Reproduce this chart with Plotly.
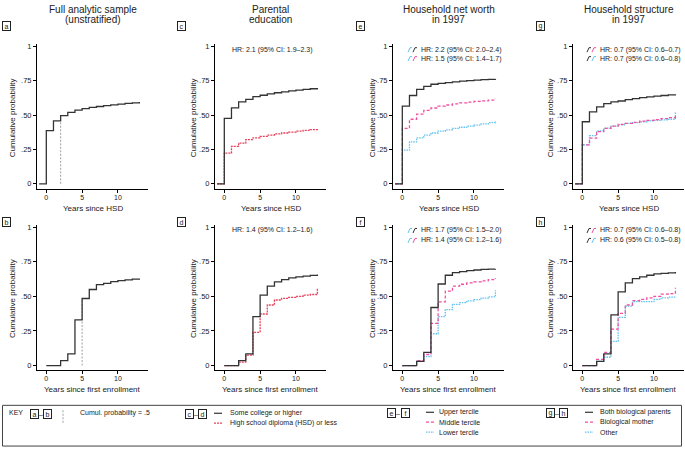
import plotly.graph_objects as go

W, H = 685, 456
FONT = "Liberation Sans, Arial, sans-serif"
BLACK = "#333333"
RED = "#e8405a"
PINK = "#f050a0"
BLUE = "#62c2f0"
GREY = "#888888"

# ---------------- data ----------------
t_hsd = [-1, 0, 1, 2, 3, 4, 5, 6, 7, 8, 9, 10, 11, 12, 13]
t_enr = [0, 1, 2, 3, 4, 5, 6, 7, 8, 9, 10, 11, 12, 13]

a_all = [0, 0.387, 0.458, 0.496, 0.52, 0.537, 0.548, 0.556, 0.563, 0.569, 0.575, 0.580, 0.585, 0.590, 0.595]
b_all = [0, 0, 0.035, 0.085, 0.33, 0.485, 0.55, 0.585, 0.595, 0.607, 0.615, 0.62, 0.625, 0.63]
a_median = 2
b_median = 5

c_college = [0, 0.476, 0.553, 0.596, 0.615, 0.635, 0.645, 0.655, 0.663, 0.670, 0.676, 0.682, 0.687, 0.692, 0.697]
c_hsd = [0, 0.224, 0.272, 0.296, 0.322, 0.335, 0.345, 0.355, 0.363, 0.370, 0.377, 0.383, 0.389, 0.395, 0.400]
d_college = [0, 0, 0.035, 0.085, 0.354, 0.51, 0.574, 0.605, 0.622, 0.634, 0.642, 0.647, 0.652, 0.658]
d_hsd = [0, 0, 0.025, 0.075, 0.24, 0.373, 0.438, 0.474, 0.486, 0.493, 0.50, 0.51, 0.514, 0.562]

e_upper = [0, 0.565, 0.643, 0.688, 0.71, 0.725, 0.732, 0.737, 0.742, 0.747, 0.751, 0.755, 0.758, 0.761, 0.763]
e_middle = [0, 0.404, 0.47, 0.507, 0.535, 0.552, 0.565, 0.574, 0.582, 0.589, 0.595, 0.60, 0.604, 0.61, 0.62]
e_lower = [0, 0.245, 0.305, 0.335, 0.355, 0.37, 0.383, 0.393, 0.403, 0.412, 0.42, 0.428, 0.436, 0.445, 0.457]
f_upper = [0, 0, 0.03, 0.095, 0.42, 0.59, 0.653, 0.672, 0.68, 0.686, 0.691, 0.695, 0.697, 0.699]
f_middle = [0, 0, 0.035, 0.08, 0.305, 0.46, 0.538, 0.574, 0.588, 0.598, 0.605, 0.613, 0.622, 0.634]
f_lower = [0, 0, 0.03, 0.065, 0.23, 0.354, 0.405, 0.443, 0.455, 0.468, 0.477, 0.488, 0.497, 0.545]

g_both = [0, 0.452, 0.524, 0.56, 0.584, 0.596, 0.603, 0.613, 0.62, 0.627, 0.633, 0.638, 0.643, 0.648, 0.652]
g_mother = [0, 0.284, 0.332, 0.38, 0.404, 0.42, 0.433, 0.44, 0.448, 0.456, 0.462, 0.468, 0.475, 0.482, 0.50]
g_other = [0, 0.284, 0.351, 0.385, 0.405, 0.42, 0.43, 0.44, 0.445, 0.452, 0.458, 0.462, 0.466, 0.470, 0.52]
h_both = [0, 0, 0.03, 0.085, 0.366, 0.533, 0.598, 0.629, 0.641, 0.653, 0.663, 0.667, 0.670, 0.677]
h_mother = [0, 0, 0.045, 0.095, 0.263, 0.378, 0.438, 0.469, 0.478, 0.49, 0.50, 0.517, 0.52, 0.562]
h_other = [0, 0, 0.03, 0.06, 0.175, 0.349, 0.43, 0.462, 0.462, 0.462, 0.478, 0.49, 0.495, 0.495]

titles = [["Full analytic sample", "(unstratified)"], ["Parental", "education"],
          ["Household net worth", "in 1997"], ["Household structure", "in 1997"]]
hr_text = {
    "c": ["HR: 2.1 (95% CI: 1.9\u20132.3)"],
    "d": ["HR: 1.4 (95% CI: 1.2\u20131.6)"],
    "e": ["HR: 2.2 (95% CI: 2.0\u20132.4)", "HR: 1.5 (95% CI: 1.4\u20131.7)"],
    "f": ["HR: 1.7 (95% CI: 1.5\u20132.0)", "HR: 1.4 (95% CI: 1.2\u20131.6)"],
    "g": ["HR: 0.7 (95% CI: 0.6\u20130.7)", "HR: 0.7 (95% CI: 0.6\u20130.8)"],
    "h": ["HR: 0.7 (95% CI: 0.6\u20130.8)", "HR: 0.6 (95% CI: 0.5\u20130.8)"],
}
y_ticks = [0, 0.25, 0.5, 0.75, 1]
y_ticklabels = ["0", ".25", ".50", ".75", "1"]
x_ticks = [0, 5, 10]
x_titles = ["Years since HSD", "Years since first enrollment"]
y_title = "Cumulative probability"

# ---------------- layout geometry (pixels) ----------------
cols = [(37, 148), (215, 326), (393, 504), (573, 684)]
rows = [(42, 188), (224, 370)]

def px(x):
    return x / W

def py(y):
    return 1 - y / H

fig = go.Figure()
layout = dict(width=W, height=H, margin=dict(l=0, r=0, t=0, b=0),
              paper_bgcolor="white", plot_bgcolor="white", showlegend=False,
              font=dict(family=FONT, size=8, color="#222"))

panels = [["a", "c", "e", "g"], ["b", "d", "f", "h"]]
axis_of = {}
idx = 0
for r in range(2):
    for c in range(4):
        idx += 1
        axis_of[panels[r][c]] = idx
        sx = "" if idx == 1 else str(idx)
        x0, x1 = cols[c]
        y0, y1 = rows[r]
        yr0 = -0.036 if r == 0 else -0.029
        layout["xaxis" + sx] = dict(domain=[px(x0), px(x1)], anchor="y" + sx, range=[-1.3, 14.2],
                                    tickvals=x_ticks, ticks="outside", ticklen=3, tickwidth=1,
                                    tickcolor="black", showline=True, linecolor="black", linewidth=1,
                                    showgrid=False, zeroline=False, tickfont=dict(size=7, color="#222"),
                                    ticklabelstandoff=-1, fixedrange=True)
        layout["yaxis" + sx] = dict(domain=[py(y1), py(y0)], anchor="x" + sx, range=[yr0, 1.02],
                                    tickvals=y_ticks, ticktext=y_ticklabels, ticks="outside", ticklen=3,
                                    tickwidth=1, tickcolor="black", showline=True, linecolor="black",
                                    linewidth=1, showgrid=False, zeroline=False,
                                    tickfont=dict(size=7.5, color="#222"), fixedrange=True)

def add_line(panel, x, y, color, dash="solid", width=1.3):
    i = axis_of[panel]
    sx = "" if i == 1 else str(i)
    fig.add_trace(go.Scatter(x=x, y=y, mode="lines", line=dict(color=color, width=width, dash=dash, shape="hv"),
                             xaxis="x" + sx, yaxis="y" + sx, hoverinfo="skip"))

def add_vline(panel, x, ytop):
    i = axis_of[panel]
    sx = "" if i == 1 else str(i)
    fig.add_trace(go.Scatter(x=[x, x], y=[0, ytop], mode="lines",
                             line=dict(color=GREY, width=0.8, dash="2px,1.5px"),
                             xaxis="x" + sx, yaxis="y" + sx, hoverinfo="skip"))

add_vline("a", a_median, 0.5)
add_line("a", t_hsd, a_all, BLACK)
add_vline("b", b_median, 0.485)
add_line("b", t_enr, b_all, BLACK)

add_line("c", t_hsd, c_hsd, RED, "2px,1px")
add_line("c", t_hsd, c_college, BLACK)
add_line("d", t_enr, d_hsd, RED, "2px,1px")
add_line("d", t_enr, d_college, BLACK)

add_line("e", t_hsd, e_lower, BLUE, "1.5px,1px")
add_line("e", t_hsd, e_middle, PINK, "3px,2px")
add_line("e", t_hsd, e_upper, BLACK)
add_line("f", t_enr, f_lower, BLUE, "1.5px,1px")
add_line("f", t_enr, f_middle, PINK, "3px,2px")
add_line("f", t_enr, f_upper, BLACK)

add_line("g", t_hsd, g_other, BLUE, "1.5px,1px")
add_line("g", t_hsd, g_mother, PINK, "3px,2px")
add_line("g", t_hsd, g_both, BLACK)
add_line("h", t_enr, h_other, BLUE, "1.5px,1px")
add_line("h", t_enr, h_mother, PINK, "3px,2px")
add_line("h", t_enr, h_both, BLACK)

annotations = []
shapes = []

def text(x, y, s, size=8, xanchor="left", color="#222", angle=0):
    annotations.append(dict(x=px(x), y=py(y), xref="paper", yref="paper", text=s, showarrow=False,
                            xanchor=xanchor, yanchor="middle", textangle=angle,
                            font=dict(size=size, color=color, family=FONT)))

def boxlabel(x, y, s):
    annotations.append(dict(x=px(x), y=py(y), xref="paper", yref="paper", text=s, showarrow=False,
                            xanchor="center", yanchor="middle", width=7, height=8,
                            bordercolor="#222", borderwidth=1, borderpad=0,
                            font=dict(size=7, color="#222", family=FONT)))

# titles
for c in range(4):
    cx = (cols[c][0] + cols[c][1]) / 2
    text(cx, 8, titles[c][0], size=10, xanchor="center")
    text(cx, 18, titles[c][1], size=10, xanchor="center")

# panel letters
lab_x = [6, 181, 360, 540]
for c in range(4):
    boxlabel(lab_x[c], 24, panels[0][c])
    boxlabel(lab_x[c], 221, panels[1][c])

# axis titles
yt_x = [12, 193, 372, 550]
for c in range(4):
    cx = (cols[c][0] + cols[c][1]) / 2
    text(cx, 208, x_titles[0], size=8, xanchor="center")
    text(cx, 390, x_titles[1], size=8, xanchor="center")
    for r in range(2):
        cy = (rows[r][0] + rows[r][1]) / 2 + 2
        annotations.append(dict(x=px(yt_x[c]), y=py(cy), xref="paper", yref="paper", text=y_title,
                                showarrow=False, xanchor="center", yanchor="middle", textangle=-90,
                                font=dict(size=8, color="#222", family=FONT)))

# HR text
text(272, 48, hr_text["c"][0], size=7, xanchor="center")
text(272, 230, hr_text["d"][0], size=7, xanchor="center")

def glyph(x, y, color):
    # tiny step-shaped legend glyph
    path = f"M {px(x)},{py(y+2.5)} L {px(x+2)},{py(y-2)} L {px(x+4)},{py(y-2)}"
    shapes.append(dict(type="path", path=path, xref="paper", yref="paper",
                       line=dict(color=color, width=1)))

def hr_pair(x_icon, x_text, y, c1, c2, s):
    glyph(x_icon, y, c1)
    glyph(x_icon + 5, y, c2)
    text(x_text, y, s, size=7)

hr_pair(408, 419, 48, BLUE, BLACK, hr_text["e"][0])
hr_pair(408, 419, 57, BLUE, PINK, hr_text["e"][1])
hr_pair(408, 419, 230, BLUE, BLACK, hr_text["f"][0])
hr_pair(408, 419, 240, BLUE, PINK, hr_text["f"][1])
hr_pair(587, 598, 48, BLACK, PINK, hr_text["g"][0])
hr_pair(587, 598, 57, BLACK, BLUE, hr_text["g"][1])
hr_pair(587, 598, 230, BLACK, PINK, hr_text["h"][0])
hr_pair(587, 598, 240, BLACK, BLUE, hr_text["h"][1])

# ---------------- key ----------------
shapes.append(dict(type="rect", xref="paper", yref="paper", x0=px(2.5), x1=px(681.5), y0=py(447), y1=py(406),
                   line=dict(color="#444", width=1)))
text(7, 413, "KEY", size=7)

def keypair(x, y, l1, l2):
    boxlabel(x, y, l1)
    text(x + 6.5, y, "\u2013", size=7, xanchor="center")
    boxlabel(x + 13, y, l2)

keypair(34, 415, "a", "b")
shapes.append(dict(type="line", xref="paper", yref="paper", x0=px(63), x1=px(63), y0=py(411), y1=py(425),
                   line=dict(color=GREY, width=0.8, dash="2px,1.5px")))
text(78, 414, "Cumul. probability = .5", size=7)

keypair(189, 415, "c", "d")

def keyline(x, y, color, dash):
    shapes.append(dict(type="line", xref="paper", yref="paper", x0=px(x), x1=px(x + 8), y0=py(y), y1=py(y),
                       line=dict(color=color, width=1.2, dash=dash)))

keyline(214, 414, BLACK, "solid")
text(228, 414, "Some college or higher", size=7)
keyline(214, 424, RED, "2px,1px")
text(228, 424, "High school diploma (HSD) or less", size=7)

keypair(392, 414, "e", "f")
keyline(426, 413, BLACK, "solid")
text(437, 413, "Upper tercile", size=7)
keyline(426, 423, PINK, "3px,2px")
text(437, 423, "Middle tercile", size=7)
keyline(426, 433, BLUE, "1.5px,1px")
text(437, 433, "Lower tercile", size=7)

keypair(550, 414, "g", "h")
keyline(585, 413, BLACK, "solid")
text(598, 413, "Both biological parents", size=7)
keyline(585, 423, PINK, "3px,2px")
text(598, 423, "Biological mother", size=7)
keyline(585, 433, BLUE, "1.5px,1px")
text(598, 433, "Other", size=7)

layout["annotations"] = annotations
layout["shapes"] = shapes
fig.update_layout(**layout)
fig.write_html("out.html", config={"displayModeBar": False},
               post_script="document.body.style.margin='0';document.body.style.overflow='hidden';")
